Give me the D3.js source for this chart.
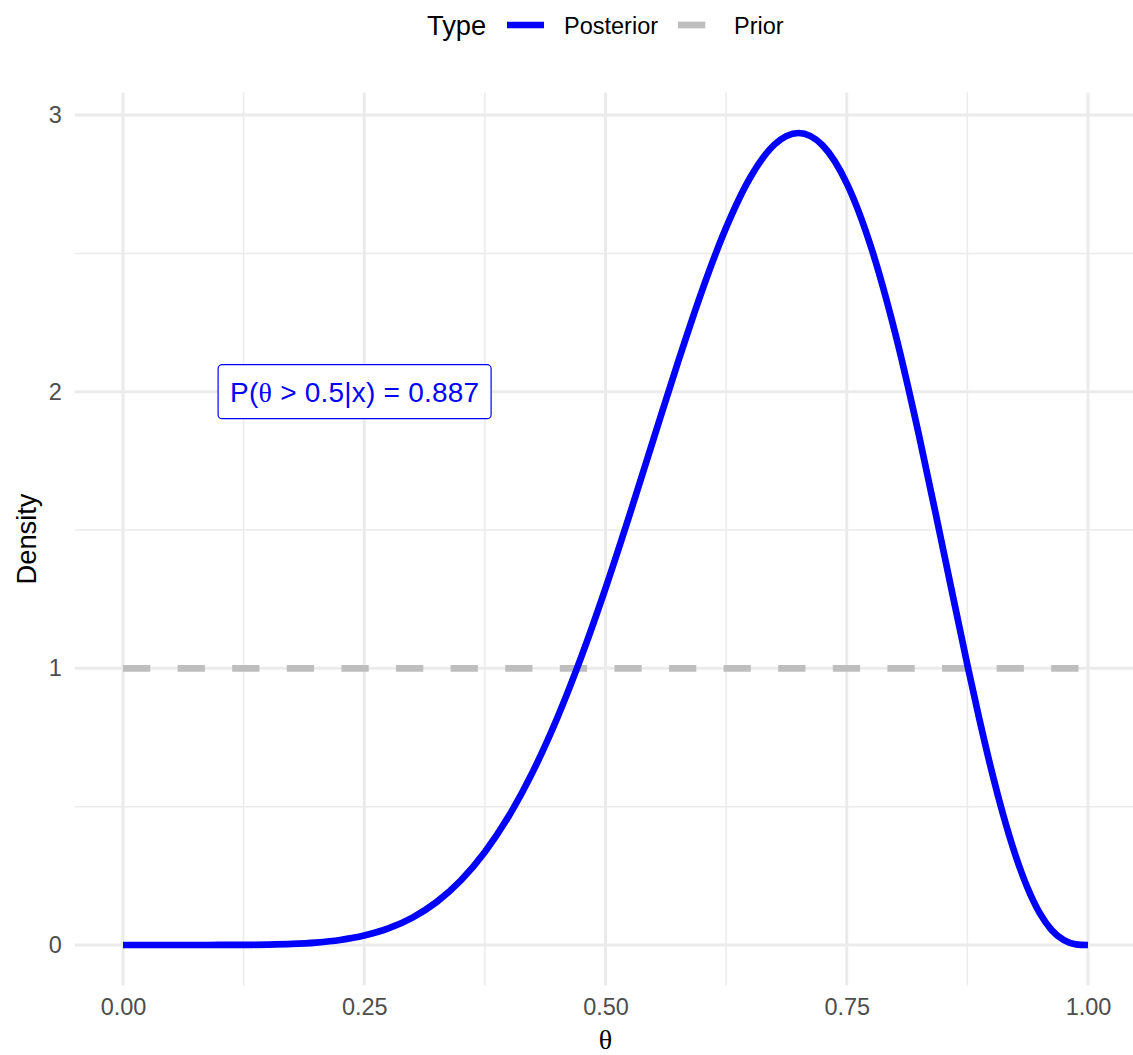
<!DOCTYPE html>
<html>
<head>
<meta charset="utf-8">
<script src="https://cdn.jsdelivr.net/npm/d3@7"></script>
<style>
  body { margin: 0; background: #fff; }
  svg { font-family: "Liberation Sans", Arial, sans-serif; }
</style>
</head>
<body>
<svg id="chart"></svg>
<script>
// values
var theta = [0, 0.025, 0.05, 0.075, 0.1, 0.125, 0.15, 0.175, 0.2, 0.225, 0.25, 0.275, 0.3, 0.325, 0.35, 0.375, 0.4, 0.425, 0.45, 0.475,
  0.5, 0.525, 0.55, 0.575, 0.6, 0.625, 0.65, 0.675, 0.7, 0.725, 0.75, 0.775, 0.8, 0.825, 0.85, 0.875, 0.8875, 0.9, 0.9125, 0.925, 0.9375,
  0.95, 0.9625, 0.975, 0.9875, 1]
var posterior = [0, 0, 0, 0, 0.0001, 0.0004, 0.0014, 0.0037, 0.0087, 0.0179, 0.034, 0.0598, 0.099, 0.1555, 0.2332, 0.3361, 0.4671, 0.6285, 0.8206, 1.0421,
  1.2891, 1.5551, 1.8313, 2.1058, 2.3649, 2.5932, 2.7744, 2.893, 2.9351, 2.8903, 2.7531, 2.5249, 2.2146, 1.8402, 1.4282, 1.0124, 0.8151, 0.6313, 0.4658, 0.3227, 0.2051,
  0.1152, 0.0533, 0.0173, 0.0024, 0]
var priorTheta = [0, 1]
var prior = [1, 1]

var xTicks = [0, 0.25, 0.5, 0.75, 1]
var xTickLabels = ["0.00", "0.25", "0.50", "0.75", "1.00"]
var xMinor = [0.125, 0.375, 0.625, 0.875]
var yTicks = [0, 1, 2, 3]
var yMinor = [0.5, 1.5, 2.5]

var labelX = 0.24
var labelY = 2
// pieces of "P(θ > 0.5|x) = 0.887", θ set in a serif face
var labelParts = [["P(", false], ["θ", true], [" > 0.5|x) = 0.887", false]]

var width = 1133
var height = 1055

var x = d3.scaleLinear()
	.domain([-0.05, 1.05])
	.range([74.75, 1136.25])

var y = d3.scaleLinear()
	.domain([-0.1468, 3.0819])
	.range([985.6, 92.4])

var svg = d3.select("#chart")
	.attr("width", width)
	.attr("height", height)

var grid = svg.append("g")

// minor grid
grid.selectAll(".xminor").data(xMinor).join("line")
	.attr("class", "xminor")
	.attr("x1", d => x(d)).attr("x2", d => x(d))
	.attr("y1", y.range()[0]).attr("y2", y.range()[1])
	.attr("stroke", "#ebebeb").attr("stroke-width", 1.5)
grid.selectAll(".yminor").data(yMinor).join("line")
	.attr("class", "yminor")
	.attr("y1", d => y(d)).attr("y2", d => y(d))
	.attr("x1", x.range()[0]).attr("x2", x.range()[1])
	.attr("stroke", "#ebebeb").attr("stroke-width", 1.5)

// major grid
grid.selectAll(".xmajor").data(xTicks).join("line")
	.attr("class", "xmajor")
	.attr("x1", d => x(d)).attr("x2", d => x(d))
	.attr("y1", y.range()[0]).attr("y2", y.range()[1])
	.attr("stroke", "#ebebeb").attr("stroke-width", 3)
grid.selectAll(".ymajor").data(yTicks).join("line")
	.attr("class", "ymajor")
	.attr("y1", d => y(d)).attr("y2", d => y(d))
	.attr("x1", x.range()[0]).attr("x2", x.range()[1])
	.attr("stroke", "#ebebeb").attr("stroke-width", 3)

// axes (no lines, just labels)
var xAxis = g => g
	.attr("transform", `translate(0,${y.range()[0]})`)
	.call(d3.axisBottom(x).tickValues(xTicks).tickFormat((d, i) => xTickLabels[i]).tickSize(0).tickPadding(13))
	.call(g => g.select(".domain").remove())

var yAxis = g => g
	.attr("transform", `translate(${x.range()[0]},0)`)
	.call(d3.axisLeft(y).tickValues(yTicks).tickFormat(d3.format("d")).tickSize(0).tickPadding(13))
	.call(g => g.select(".domain").remove())

svg.append("g").call(xAxis)
svg.append("g").call(yAxis)
svg.selectAll(".tick text")
	.attr("fill", "#4d4d4d")
	.style("font-size", "23.5px")
	.style("font-family", "Liberation Sans, Arial, sans-serif")

// prior
var priorLine = d3.line()
	.x(d => x(d[0]))
	.y(d => y(d[1]))

svg.append("path")
	.attr("fill", "none")
	.attr("stroke", "#bebebe")
	.attr("stroke-width", 6.7)
	.attr("stroke-dasharray", "27.3,27.3")
	.attr("d", priorLine(d3.zip(priorTheta, prior)))

// posterior
var postLine = d3.line()
	.curve(d3.curveMonotoneX)
	.x(d => x(d[0]))
	.y(d => y(d[1]))

svg.append("path")
	.attr("fill", "none")
	.attr("stroke", "#0000ff")
	.attr("stroke-width", 6.7)
	.attr("stroke-linejoin", "round")
	.attr("d", postLine(d3.zip(theta, posterior)))

// annotation label
var lab = svg.append("g")
	.attr("transform", `translate(${x(labelX)},${y(labelY)})`)
lab.append("rect")
	.attr("x", -136.5).attr("y", -27)
	.attr("width", 273).attr("height", 54)
	.attr("rx", 4)
	.attr("fill", "#fff")
	.attr("stroke", "#0000ff")
	.attr("stroke-width", 1.2)
var labText = lab.append("text")
	.attr("text-anchor", "middle")
	.attr("y", 10)
	.style("font-size", "28px")
	.attr("fill", "#0000ff")
	.attr("textLength", 249)
labelParts.forEach(p => {
	var t = labText.append("tspan").text(p[0])
	if (p[1]) t.style("font-family", "Liberation Serif, DejaVu Serif, serif")
})

// axis titles
svg.append("text")
	.attr("x", (x.range()[0] + x.range()[1]) / 2)
	.attr("y", 1049)
	.attr("text-anchor", "middle")
	.style("font-size", "28px")
	.style("font-family", "Liberation Serif, DejaVu Serif, serif")
	.text("θ")

svg.append("text")
	.attr("transform", `translate(36,${(y.range()[0] + y.range()[1]) / 2}) rotate(-90)`)
	.attr("text-anchor", "middle")
	.style("font-size", "27.3px")
	.text("Density")

// legend
var legend = svg.append("g")
legend.append("text")
	.attr("x", 427).attr("y", 35)
	.style("font-size", "27.3px")
	.text("Type")
var keys = [
	{name: "Posterior", color: "#0000ff", dash: null, x: 507, tx: 564},
	{name: "Prior", color: "#bebebe", dash: "27.3,27.3", x: 678, tx: 734}
]
keys.forEach(k => {
	legend.append("line")
		.attr("x1", k.x).attr("x2", k.x + 37)
		.attr("y1", 25).attr("y2", 25)
		.attr("stroke", k.color)
		.attr("stroke-width", 6.7)
		.attr("stroke-dasharray", k.dash)
	legend.append("text")
		.attr("x", k.tx).attr("y", 34)
		.style("font-size", "23.5px")
		.text(k.name)
})
</script>
</body>
</html>
